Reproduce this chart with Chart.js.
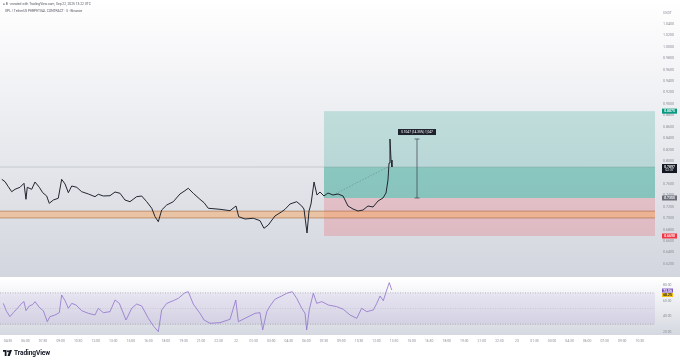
<!DOCTYPE html>
<html>
<head>
<meta charset="utf-8">
<script src="https://cdn.jsdelivr.net/npm/chart.js@4.4.1/dist/chart.umd.min.js"></script>
<style>
  html, body { margin: 0; padding: 0; background: #fff; }
  body { width: 680px; height: 362px; position: relative; overflow: hidden; font-family: Roboto, "Liberation Sans", sans-serif; }
  #main { position: absolute; left: 0; top: 0; }
  #rsi { position: absolute; left: 0; top: 277px; }
  .hdr { position: absolute; left: 3px; white-space: nowrap; color: #555862; font-size: 3.3px; line-height: 4px; }
  #brand { position: absolute; left: 3px; top: 349px; height: 8px; display: flex; align-items: center; gap: 2px; font-weight: 700; font-size: 6.6px; color: #131722; letter-spacing: -0.1px; }
</style>
</head>
<body>
<canvas id="main" width="680" height="277"></canvas>
<canvas id="rsi" width="680" height="73"></canvas>
<div class="hdr" style="top:2px">&#9679; B &middot; created with TradingView.com, Sep 22, 2025 13:22 UTC</div>
<div class="hdr" style="top:9px;left:5px">XPL / TetherUS PERPETUAL CONTRACT &middot; 5 &middot; Binance</div>
<div id="brand">
  <svg width="9" height="6" viewBox="0 0 36 24"><path d="M0 0h14v24H7V7H0z" fill="#131722"/><circle cx="20" cy="5" r="4" fill="#131722"/><path d="M26 0h10l-9 24h-9z" fill="#131722"/></svg>
  <span>TradingView</span>
</div>
<script>
// hours counted from Sep 21 00:00 UTC, 5m chart
const priceHours = [3.97, 4.25, 4.53, 4.82, 5.10, 5.53, 5.87, 6.04, 6.15, 6.53, 6.81, 7.18, 7.47, 7.81, 8.03, 8.38, 8.80,
  9.09, 9.38, 9.66, 9.95, 10.38, 10.80, 11.37, 11.94, 12.22, 12.65, 13.22, 13.65, 14.08, 14.50, 14.93, 15.50, 15.93,
  16.36, 16.79, 17.07, 17.35, 17.64, 18.07, 18.63, 19.20, 19.63, 19.91, 20.34, 20.91, 21.26, 21.62, 22.62, 23.48,
  23.99, 24.22, 24.76, 25.47, 26.04, 26.38, 26.75, 27.32, 27.90, 28.18, 28.61, 29.18, 29.61, 29.80, 30.06, 30.23,
  30.40, 30.66, 30.91, 31.17, 31.51, 31.85, 32.28, 32.71, 33.14, 33.56, 33.99, 34.42, 34.85, 35.27, 35.70, 36.13,
  36.55, 36.81, 36.98, 37.07, 37.15, 37.24, 37.32];
const priceClose = [0.7682, 0.7640, 0.7553, 0.7465, 0.7507, 0.7542, 0.7612, 0.7332, 0.7542, 0.7507, 0.7635, 0.7542,
  0.7448, 0.7390, 0.7262, 0.7320, 0.7350, 0.7682, 0.7600, 0.7448, 0.7565, 0.7542, 0.7465, 0.7425, 0.7378, 0.7420,
  0.7390, 0.7395, 0.7460, 0.7437, 0.7320, 0.7290, 0.7378, 0.7390, 0.7290, 0.7175, 0.7028, 0.6940, 0.7145, 0.7232,
  0.7290, 0.7425, 0.7483, 0.7525, 0.7437, 0.7332, 0.7273, 0.7175, 0.7157, 0.7133, 0.7215, 0.7028, 0.6987, 0.7000,
  0.6958, 0.6825, 0.6882, 0.7040, 0.7115, 0.7157, 0.7250, 0.7290, 0.7215, 0.7162, 0.6742, 0.7127, 0.7250, 0.7635,
  0.7407, 0.7460, 0.7390, 0.7442, 0.7407, 0.7425, 0.7390, 0.7215, 0.7162, 0.7127, 0.7145, 0.7215, 0.7197, 0.7302,
  0.7355, 0.7442, 0.7670, 0.7967, 0.8387, 0.8020, 0.7897];

const rsiHours = [4.10, 4.39, 4.67, 4.96, 5.38, 5.67, 5.87, 6.04, 6.32, 6.61, 6.81, 7.18, 7.52, 7.86, 8.09, 8.52, 8.89,
  9.09, 9.38, 9.66, 9.95, 10.32, 10.80, 11.37, 11.94, 12.22, 12.65, 13.22, 13.65, 14.02, 14.59, 15.08, 15.50, 15.93,
  16.50, 16.98, 17.35, 17.64, 18.07, 18.63, 19.06, 19.63, 19.91, 20.34, 20.91, 21.26, 21.77, 22.62, 23.48, 23.97,
  24.19, 24.76, 25.61, 26.04, 26.27, 26.62, 26.90, 27.32, 27.90, 28.32, 28.80, 29.18, 29.61, 29.89, 30.03, 30.26,
  30.60, 30.89, 31.32, 31.88, 32.60, 33.16, 33.73, 34.31, 34.73, 35.16, 35.73, 36.02, 36.30, 36.58, 36.87, 37.09, 37.30];
const rsiValues = [56.6, 46, 39.7, 44.7, 51.5, 56.6, 58.8, 47.3, 53.3, 55, 58.8, 51.5, 47.3, 33.3, 39.7, 41.8, 44.7,
  67.3, 60, 50.3, 56.6, 54.5, 47.3, 43.9, 41.8, 50.3, 44.7, 46, 60.9, 56.6, 35.4, 50.3, 55.7, 53.3,
  37.5, 26.9, 20.6, 48.2, 56.6, 60, 63, 70.2, 71.5, 55.7, 43.9, 35.4, 31.2, 32, 36.3, 60.9,
  33.3, 37.5, 43.9, 44.7, 22.7, 46, 53.3, 61.8, 66, 69.4, 71.5, 63, 50.3, 43.9, 22.7, 49.1,
  69.4, 56.6, 58.8, 54.5, 52.4, 49.1, 41.8, 37.5, 50.3, 46, 48.2, 56.6, 66, 60, 73.6, 83, 73.6];

// long position tool: target, current, entry, stop
const tradeLevels = [0.8875, 0.7897, 0.7355, 0.6690];
const tradeStartHour = 31.51;
const tradePath = [[32.28, 0.7407], [36.98, 0.7900]];
const supportZone = [0.7125, 0.7005];
const ruler = { hour: 39.46, top: 0.8387, bottom: 0.7355, text: '0.1047 (14.35%) 1,047' };
const rsiLast = ['73.56', '68.25'];
const countdown = '02:37';

const xMin = 3.82, xMax = 59.8;
const labelColor = '#8b8e97';
const fontFam = 'Roboto, "Liberation Sans", sans-serif';

function fmtHour(h) {
  const m = Math.round(h * 60);
  const day = Math.floor(m / 1440), mm = m % 1440;
  if (mm === 0) return String(21 + day);
  const hh = Math.floor(mm / 60), mi = mm % 60;
  return String(hh).padStart(2, '0') + ':' + String(mi).padStart(2, '0');
}

// keep chart.js from shrinking the plot to make room for tick label padding
function noPad(s) {
  s.paddingTop = 0; s.paddingBottom = 0; s.paddingLeft = 0; s.paddingRight = 0;
}

function tag(ctx, x, y, w, h, bg, fg, text) {
  ctx.fillStyle = bg;
  ctx.fillRect(x, y - h / 2, w, h);
  ctx.fillStyle = fg;
  ctx.font = '600 3.4px ' + fontFam;
  ctx.textAlign = 'center';
  ctx.textBaseline = 'middle';
  ctx.fillText(text, x + w / 2, y + 0.2);
}

const mainPanel = {
  id: 'mainPanel',
  beforeDraw(chart) {
    const { ctx, chartArea: ca } = chart;
    const g = ctx.createLinearGradient(0, 0, 0, ca.bottom);
    g.addColorStop(0, '#ffffff');
    g.addColorStop(1, '#d3d6de');
    ctx.save();
    ctx.fillStyle = g;
    ctx.fillRect(0, 0, chart.width, chart.height);
    ctx.restore();
  },
  beforeDatasetsDraw(chart) {
    const { ctx, chartArea: ca, scales: { x, y } } = chart;
    const w = ca.right - ca.left;
    ctx.save();
    ctx.beginPath();
    ctx.rect(ca.left, ca.top, w, ca.bottom - ca.top);
    ctx.clip();
    const xs = x.getPixelForValue(tradeStartHour);
    const [tgt, cur, ent, stp] = tradeLevels.map(v => y.getPixelForValue(v));
    ctx.fillStyle = 'rgba(8,153,129,0.20)';
    ctx.fillRect(xs, tgt, ca.right - xs, ent - tgt);
    ctx.fillStyle = 'rgba(8,153,129,0.26)';
    ctx.fillRect(xs, cur, ca.right - xs, ent - cur);
    ctx.fillStyle = 'rgba(242,54,69,0.20)';
    ctx.fillRect(xs, ent, ca.right - xs, stp - ent);
    // support zone
    const zt = y.getPixelForValue(supportZone[0]), zb = y.getPixelForValue(supportZone[1]);
    ctx.fillStyle = 'rgba(245,168,100,0.50)';
    ctx.fillRect(ca.left, zt, w, zb - zt);
    ctx.strokeStyle = 'rgba(170,105,60,0.75)';
    ctx.lineWidth = 0.8;
    ctx.beginPath();
    ctx.moveTo(ca.left, zt); ctx.lineTo(ca.right, zt);
    ctx.moveTo(ca.left, zb); ctx.lineTo(ca.right, zb);
    ctx.stroke();
    // last price line
    ctx.strokeStyle = 'rgba(120,123,134,0.45)';
    ctx.lineWidth = 0.6;
    ctx.beginPath();
    ctx.moveTo(ca.left, cur); ctx.lineTo(ca.right, cur);
    ctx.stroke();
    // trade path
    ctx.strokeStyle = 'rgba(90,95,110,0.6)';
    ctx.setLineDash([1.5, 1.5]);
    ctx.beginPath();
    ctx.moveTo(x.getPixelForValue(tradePath[0][0]), y.getPixelForValue(tradePath[0][1]));
    ctx.lineTo(x.getPixelForValue(tradePath[1][0]), y.getPixelForValue(tradePath[1][1]));
    ctx.stroke();
    ctx.restore();
  },
  afterDatasetsDraw(chart) {
    const { ctx, scales: { x, y } } = chart;
    const rx = x.getPixelForValue(ruler.hour);
    const rt = y.getPixelForValue(ruler.top), rb = y.getPixelForValue(ruler.bottom);
    ctx.save();
    ctx.strokeStyle = '#3a3e4a';
    ctx.lineWidth = 0.7;
    ctx.beginPath();
    ctx.moveTo(rx, rt); ctx.lineTo(rx, rb);
    ctx.moveTo(rx - 2.5, rt); ctx.lineTo(rx + 2.5, rt);
    ctx.moveTo(rx - 2.5, rb); ctx.lineTo(rx + 2.5, rb);
    ctx.stroke();
    ctx.fillStyle = '#1e222d';
    ctx.fillRect(rx - 19, rt - 10, 38, 6);
    ctx.fillStyle = '#ffffff';
    ctx.font = '3.2px ' + fontFam;
    ctx.textAlign = 'center';
    ctx.textBaseline = 'middle';
    ctx.fillText(ruler.text, rx, rt - 6.8);
    ctx.restore();
  },
  afterDraw(chart) {
    const { ctx, scales: { y } } = chart;
    const [tgt, cur, ent, stp] = tradeLevels.map(v => y.getPixelForValue(v));
    ctx.save();
    tag(ctx, 662, tgt, 15, 5, '#089981', '#ffffff', tradeLevels[0].toFixed(4));
    tag(ctx, 662, ent, 15, 5, '#6a6d78', '#ffffff', tradeLevels[2].toFixed(4));
    tag(ctx, 662, stp, 15, 5, '#f23645', '#ffffff', tradeLevels[3].toFixed(4));
    ctx.fillStyle = '#131722';
    ctx.fillRect(662, cur - 3, 15, 9);
    ctx.fillStyle = '#ffffff';
    ctx.font = '600 3.4px ' + fontFam;
    ctx.textAlign = 'center';
    ctx.textBaseline = 'middle';
    ctx.fillText(tradeLevels[1].toFixed(4), 669.5, cur - 0.3);
    ctx.font = '3.2px ' + fontFam;
    ctx.fillText(countdown, 669.5, cur + 3.6);
    ctx.restore();
  }
};

new Chart(document.getElementById('main'), {
  type: 'line',
  data: {
    datasets: [{
      data: priceHours.map((h, i) => ({ x: h, y: priceClose[i] })),
      borderColor: '#22262f',
      borderWidth: 1,
      pointRadius: 0,
      tension: 0
    }]
  },
  options: {
    responsive: false,
    animation: false,
    events: [],
    layout: { autoPadding: false, padding: { top: 3, bottom: 2, left: 0, right: 0 } },
    plugins: { legend: { display: false }, tooltip: { enabled: false } },
    scales: {
      x: { type: 'linear', min: xMin, max: xMax, display: false },
      y: {
        position: 'right',
        min: 0.6007, max: 1.0768,
        grid: { display: false, drawTicks: false },
        border: { display: false },
        afterFit(s) { s.width = 25; noPad(s); },
        ticks: {
          stepSize: 0.02,
          includeBounds: false,
          padding: 8,
          color: labelColor,
          font: { size: 3.6, family: fontFam },
          callback: v => v > 1.05 ? 'USDT' : v.toFixed(4)
        }
      }
    }
  },
  plugins: [mainPanel]
});

const rsiPanel = {
  id: 'rsiPanel',
  beforeDraw(chart) {
    const { ctx, chartArea: ca, scales: { y } } = chart;
    ctx.save();
    ctx.fillStyle = '#ffffff';
    ctx.fillRect(0, 0, chart.width, chart.height);
    const g = ctx.createLinearGradient(0, ca.top, 0, ca.bottom);
    g.addColorStop(0, '#ffffff');
    g.addColorStop(1, '#d5d8e0');
    ctx.fillStyle = g;
    ctx.fillRect(0, ca.top, chart.width, ca.bottom - ca.top);
    const t = y.getPixelForValue(70), b = y.getPixelForValue(30), m = y.getPixelForValue(50);
    ctx.fillStyle = 'rgba(126,87,194,0.10)';
    ctx.fillRect(ca.left, t, ca.right - ca.left, b - t);
    ctx.strokeStyle = 'rgba(120,123,134,0.8)';
    ctx.lineWidth = 0.6;
    ctx.setLineDash([1, 1.5]);
    ctx.beginPath();
    ctx.moveTo(ca.left, t); ctx.lineTo(ca.right, t);
    ctx.moveTo(ca.left, b); ctx.lineTo(ca.right, b);
    ctx.stroke();
    ctx.strokeStyle = 'rgba(120,123,134,0.3)';
    ctx.beginPath();
    ctx.moveTo(ca.left, m); ctx.lineTo(ca.right, m);
    ctx.stroke();
    ctx.restore();
  },
  afterDraw(chart) {
    const { ctx, scales: { y } } = chart;
    ctx.save();
    tag(ctx, 662, y.getPixelForValue(parseFloat(rsiLast[0])) + 0.5, 11, 4, '#7e57c2', '#ffffff', rsiLast[0]);
    tag(ctx, 662, y.getPixelForValue(parseFloat(rsiLast[1])) + 0.8, 11, 4, '#f5c21b', '#131722', rsiLast[1]);
    ctx.restore();
  }
};

new Chart(document.getElementById('rsi'), {
  type: 'line',
  data: {
    datasets: [{
      data: rsiHours.map((h, i) => ({ x: h, y: rsiValues[i] })),
      borderColor: '#8f72cc',
      borderWidth: 0.8,
      pointRadius: 0,
      tension: 0
    }]
  },
  options: {
    responsive: false,
    animation: false,
    events: [],
    layout: { autoPadding: false, padding: { top: 1, bottom: 0, left: 0, right: 0 } },
    plugins: { legend: { display: false }, tooltip: { enabled: false } },
    scales: {
      x: {
        type: 'linear', min: xMin, max: xMax,
        grid: { display: false, drawTicks: false },
        border: { display: false },
        afterFit(s) { s.height = 15; noPad(s); },
        ticks: {
          stepSize: 1.5,
          includeBounds: false,
          autoSkip: false,
          maxRotation: 0,
          padding: 4,
          color: labelColor,
          font: { size: 3.4, family: fontFam },
          callback: v => fmtHour(v)
        }
      },
      y: {
        position: 'right',
        min: 16.3, max: 88.9,
        grid: { display: false, drawTicks: false },
        border: { display: false },
        afterFit(s) { s.width = 25; noPad(s); },
        ticks: {
          stepSize: 20,
          includeBounds: false,
          padding: 8,
          color: labelColor,
          font: { size: 3.4, family: fontFam },
          callback: v => v.toFixed(2)
        }
      }
    }
  },
  plugins: [rsiPanel]
});
</script>
</body>
</html>
